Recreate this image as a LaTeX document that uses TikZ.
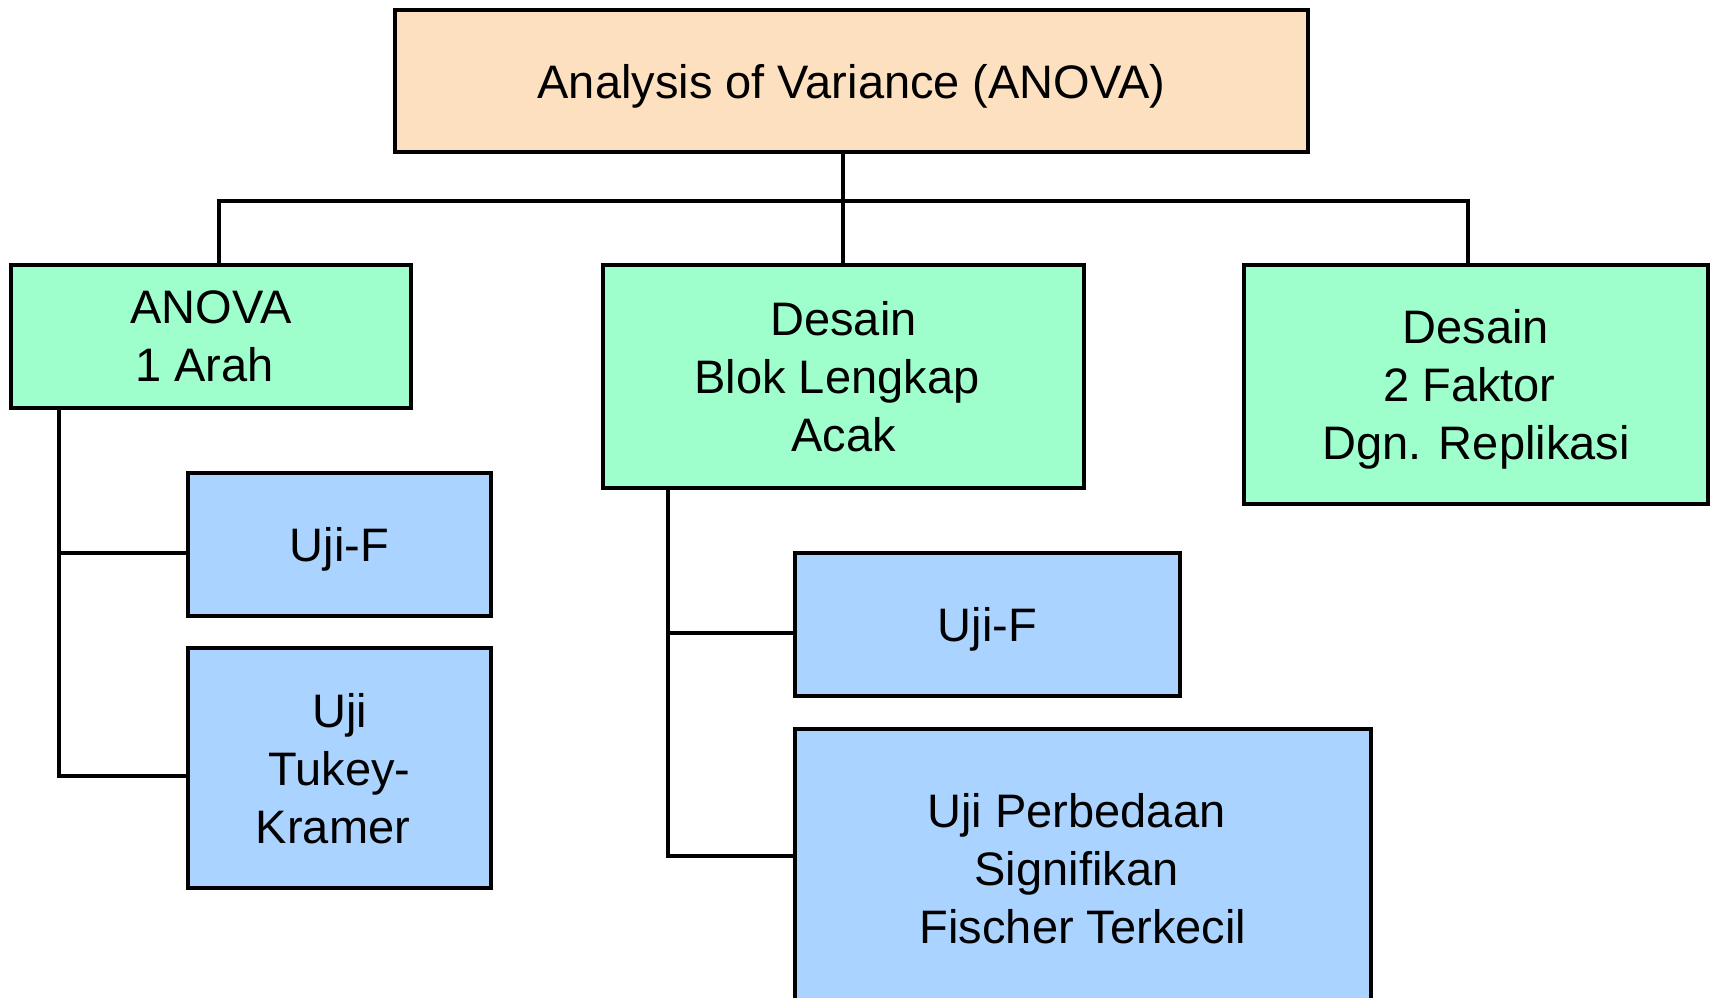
\documentclass[tikz,border=0pt]{standalone}
\usepackage{fontspec}
\setmainfont{Liberation Sans}
\definecolor{peach}{RGB}{252,224,192}
\definecolor{mint}{RGB}{158,255,204}
\definecolor{sky}{RGB}{170,212,255}
% width of one interword space, kept at the end of some lines
\newcommand{\tsp}{\kern0.278em}
\begin{document}
\begin{tikzpicture}[x=1pt,y=-1pt,
  box/.style={draw=black,line width=4pt,rectangle,inner sep=0pt,outer sep=0pt,
    align=center,text depth=0pt,font=\fontsize{47}{58}\selectfont},
  topbox/.style={box,fill=peach},
  groupbox/.style={box,fill=mint},
  testbox/.style={box,fill=sky},
  link/.style={line width=3.6pt,line cap=rect}]
\clip (0,0) rectangle (1711,998);
\fill[white] (0,0) rectangle (1711,998);

% root
\node[topbox,minimum width=913pt,minimum height=142pt] (root) at (851.5,81)
  {Analysis of Variance (ANOVA)};

% design families
\node[groupbox,minimum width=400pt,minimum height=143pt] (oneway) at (211,336.5)
  {ANOVA\\1 Arah\tsp};
\node[groupbox,minimum width=481pt,minimum height=223pt] (block) at (843.5,376.5)
  {Desain\\Blok Lengkap\tsp\\Acak};
\node[groupbox,minimum width=464pt,minimum height=239pt] (twofac) at (1476,384.5)
  {Desain\\2 Faktor\tsp\\Dgn. Replikasi};

% tests
\node[testbox,minimum width=303pt,minimum height=143pt] (f1) at (339.5,544.5) {Uji-F};
\node[testbox,minimum width=303pt,minimum height=240pt] (tk) at (339.5,768)
  {Uji\\Tukey-\\Kramer\tsp};
\node[testbox,minimum width=385pt,minimum height=143pt] (f2) at (987.5,624.5) {Uji-F};
\node[testbox,minimum width=576pt,minimum height=279pt] (lsd) at (1083,868.5)
  {Uji Perbedaan\tsp\\Signifikan\tsp\\Fischer Terkecil};

% bus and trunk points
\coordinate (trunk) at (843,201);
\coordinate (busL) at (219,201);
\coordinate (busR) at (1468,201);
\coordinate (leftA) at (59,553);
\coordinate (leftB) at (59,776);
\coordinate (midA) at (668,633);
\coordinate (midB) at (668,856);

% root to families
\draw[link] (root.south -| trunk) -- (block.north -| trunk);
\draw[link] (oneway.north -| busL) -- (busL) -- (busR) -- (twofac.north -| busR);

% one-way branches
\draw[link] (oneway.south -| leftA) -- (leftB) -- (tk.west |- leftB);
\draw[link] (leftA) -- (f1.west |- leftA);

% block design branches
\draw[link] (block.south -| midA) -- (midB) -- (lsd.west |- midB);
\draw[link] (midA) -- (f2.west |- midA);
\end{tikzpicture}
\end{document}
